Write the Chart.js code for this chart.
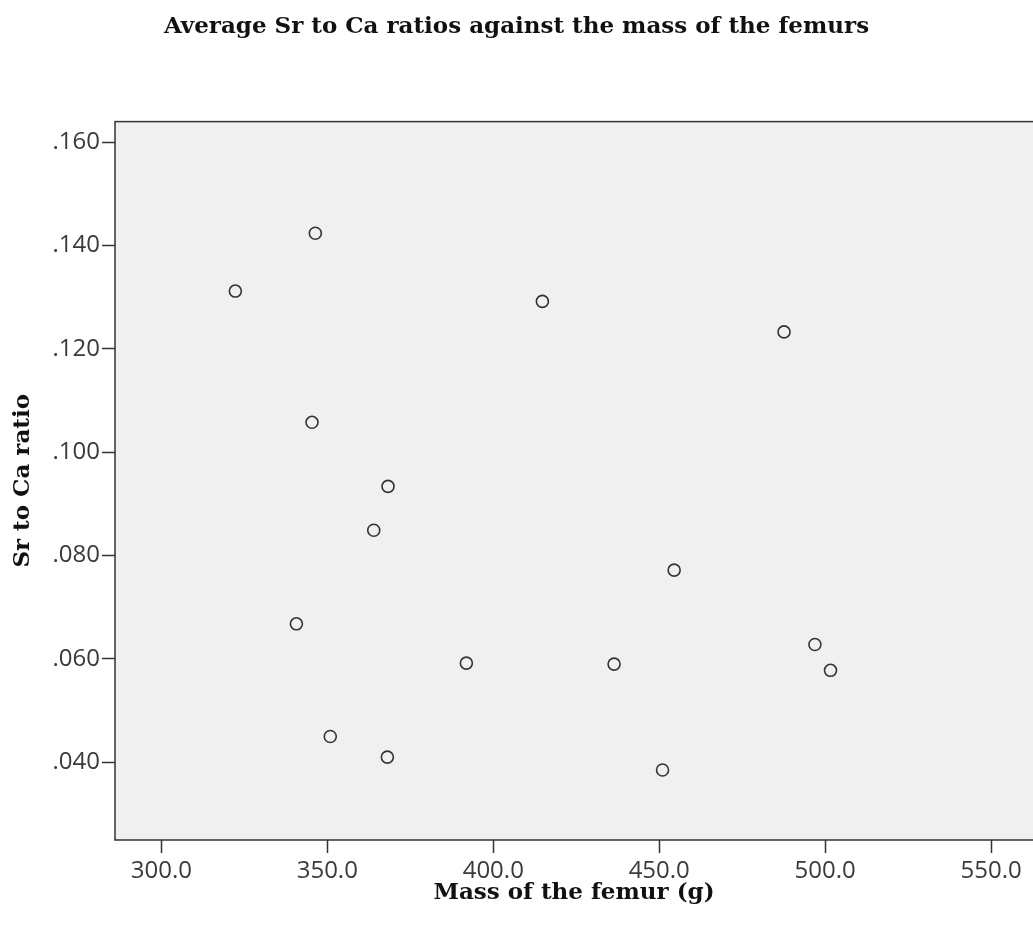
<!DOCTYPE html>
<html>
<head>
<meta charset="utf-8">
<title>Sr to Ca ratio vs femur mass</title>
<script src="https://cdn.jsdelivr.net/npm/chart.js@4/dist/chart.umd.min.js"></script>
<style>
  html, body { margin: 0; padding: 0; background: #ffffff; overflow: hidden; }
  #wrap { width: 1033px; height: 936px; }
</style>
</head>
<body>
<div id="wrap"><canvas id="scatter-chart" width="1033" height="936"></canvas></div>
<script>
// DATA
const femurMass = [322.3, 346.4, 345.4, 368.3, 364.0, 340.7, 350.9, 368.1, 414.8, 487.6, 454.5, 391.9, 436.4, 496.9, 501.6, 451.0];
const srCaRatio = [0.1312, 0.1424, 0.1058, 0.0934, 0.0849, 0.0668, 0.0450, 0.0410, 0.1292, 0.1233, 0.0772, 0.0592, 0.0590, 0.0628, 0.0578, 0.0385];
const xTickValues = [300, 350, 400, 450, 500, 550];
const yTickValues = [0.04, 0.06, 0.08, 0.10, 0.12, 0.14, 0.16];

const TEXT_COLOR = "#3a3a3a";
const LINE_COLOR = "#333333";
const SERIF = "'DejaVu Serif', serif";
const SANS = "'Open Sans', sans-serif";
const TITLE_FONT = { family: SERIF, size: 23, weight: "bold", lineHeight: 1.2 };

// plot panel: grey fill behind the points, frame drawn on top
const plotPanel = {
    id: "plotPanel",
    beforeDatasetsDraw(chart) {
        const { ctx, chartArea: a } = chart;
        ctx.save();
        ctx.fillStyle = "#f0f0f0";
        ctx.fillRect(a.left, a.top, a.right - a.left, a.bottom - a.top);
        ctx.restore();
    },
    afterDraw(chart) {
        const { ctx, chartArea: a } = chart;
        ctx.save();
        ctx.strokeStyle = LINE_COLOR;
        ctx.lineWidth = 1.5;
        // right side runs off the canvas
        ctx.strokeRect(a.left, a.top, a.right - a.left + 10, a.bottom - a.top);
        ctx.restore();
    },
};

const points = femurMass.map((m, i) => ({ x: m, y: srCaRatio[i] }));

const tickGrid = {
    display: true,
    drawOnChartArea: false,
    drawTicks: true,
    tickLength: 13,
    tickWidth: 1.5,
    tickColor: LINE_COLOR,
};

const config = {
    type: "scatter",
    data: {
        datasets: [
            {
                data: points,
                pointStyle: "circle",
                pointRadius: 6,
                pointHoverRadius: 6,
                borderWidth: 1.6,
                borderColor: "#333333",
                backgroundColor: "rgba(0,0,0,0)",
            },
        ],
    },
    options: {
        responsive: false,
        animation: false,
        layout: { padding: 0, autoPadding: false },
        plugins: {
            legend: { display: false },
            tooltip: { enabled: false },
            title: {
                display: true,
                text: "Average Sr to Ca ratios against the mass of the femurs",
                color: "#111111",
                font: TITLE_FONT,
                padding: { top: 13, bottom: 81 },
            },
        },
        scales: {
            x: {
                type: "linear",
                min: 286.05,
                max: 562.6,
                afterBuildTicks: (axis) => {
                    axis.ticks = xTickValues.map((v) => ({ value: v }));
                },
                afterFit: (axis) => {
                    axis.height = 96;
                    axis.paddingLeft = 0;
                    axis.paddingRight = 0;
                },
                ticks: {
                    color: TEXT_COLOR,
                    font: { family: SANS, size: 24 },
                    padding: 4,
                    maxRotation: 0,
                    callback: (v) => Number(v).toFixed(1),
                },
                grid: tickGrid,
                border: { display: false },
                title: {
                    display: true,
                    text: "Mass of the femur (g)",
                    color: "#111111",
                    font: TITLE_FONT,
                    padding: { top: 0, bottom: 29 },
                },
            },
            y: {
                type: "linear",
                min: 0.02496,
                max: 0.164,
                afterBuildTicks: (axis) => {
                    axis.ticks = yTickValues.map((v) => ({ value: v }));
                },
                afterFit: (axis) => {
                    axis.width = 115;
                    axis.paddingTop = 0;
                    axis.paddingBottom = 0;
                },
                ticks: {
                    color: TEXT_COLOR,
                    font: { family: SANS, size: 24 },
                    padding: 2,
                    callback: (v) => Number(v).toFixed(3).replace(/^0/, ""),
                },
                grid: tickGrid,
                border: { display: false },
                title: {
                    display: true,
                    text: "Sr to Ca ratio",
                    color: "#111111",
                    font: TITLE_FONT,
                    padding: { top: 9, bottom: 0 },
                },
            },
        },
    },
    plugins: [plotPanel],
};

new Chart(document.getElementById("scatter-chart"), config);
</script>
</body>
</html>
